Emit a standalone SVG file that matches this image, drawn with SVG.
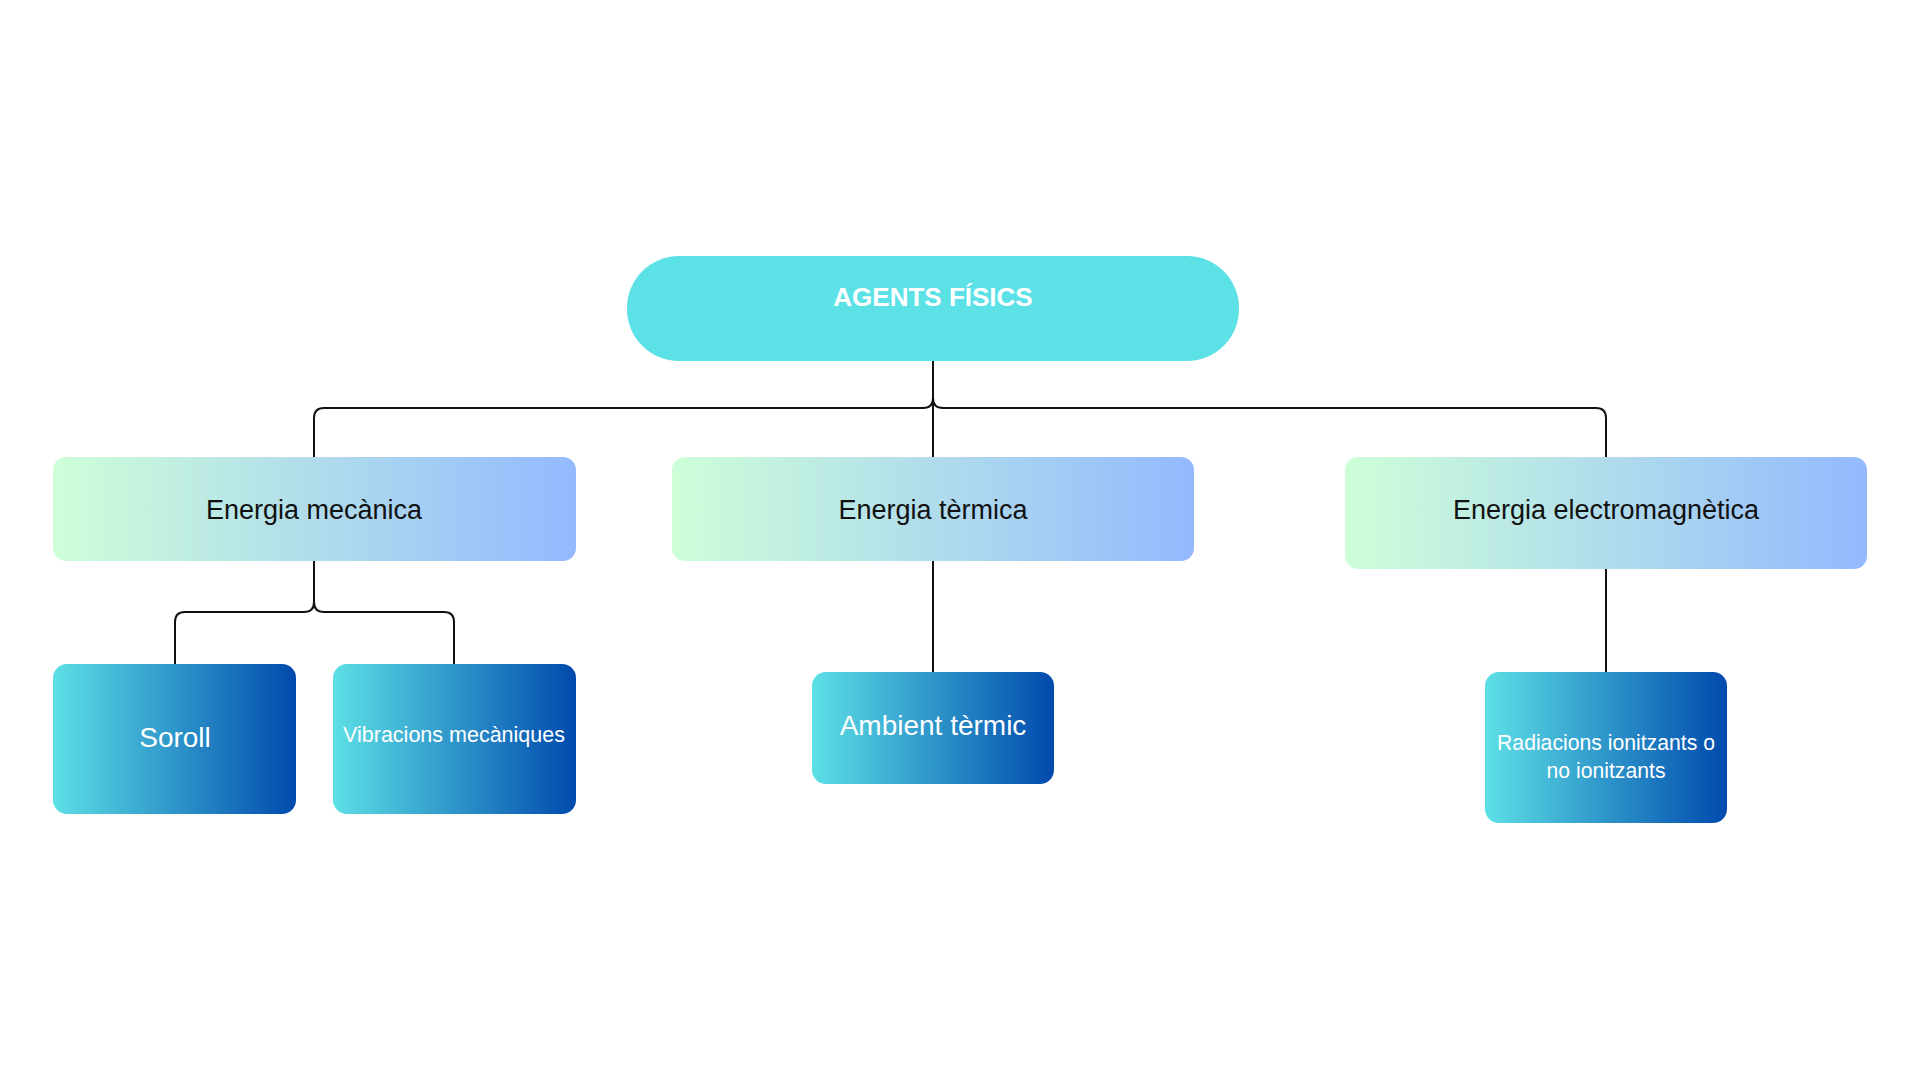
<svg xmlns="http://www.w3.org/2000/svg" width="1920" height="1080" viewBox="0 0 1920 1080">
  <defs>
    <linearGradient id="g2" x1="0" y1="0" x2="1" y2="0">
      <stop offset="0" stop-color="#cdffd8"/>
      <stop offset="1" stop-color="#94b9ff"/>
    </linearGradient>
    <linearGradient id="g3" x1="0" y1="0" x2="1" y2="0">
      <stop offset="0" stop-color="#5de0e6"/>
      <stop offset="1" stop-color="#004aad"/>
    </linearGradient>
    <style>
      .conn { fill: none; stroke: #111; stroke-width: 2; }
      .l2 { fill: url(#g2); }
      .l3 { fill: url(#g3); }
      .t { font-family: "Liberation Sans", Arial, sans-serif; text-anchor: middle; }
      .dark { fill: #111; font-size: 27px; }
      .light { fill: #ffffff; }
    </style>
  </defs>
  <rect width="1920" height="1080" fill="#ffffff"/>

  <g id="connectors">
    <path class="conn" d="M933,361 V398 Q933,408 923,408 H324 Q314,408 314,418 V457"/>
    <path class="conn" d="M933,398 Q933,408 943,408 H1596 Q1606,408 1606,418 V457"/>
    <path class="conn" d="M933,361 V457"/>
    <path class="conn" d="M314,561 V602 Q314,612 304,612 H185 Q175,612 175,622 V664"/>
    <path class="conn" d="M314,602 Q314,612 324,612 H444 Q454,612 454,622 V664"/>
    <path class="conn" d="M933,561 V672"/>
    <path class="conn" d="M1606,569 V672"/>
  </g>

  <g id="root">
    <rect x="627" y="256" width="612" height="105" rx="52" ry="52" fill="#5ce1e6"/>
    <text class="t" x="933" y="306" font-size="26" font-weight="bold" fill="#ffffff">AGENTS FÍSICS</text>
  </g>

  <g id="energia-mecanica">
    <rect class="l2" x="53" y="457" width="523" height="104" rx="13"/>
    <text class="t dark" x="314" y="519">Energia mecànica</text>
  </g>
  <g id="energia-termica">
    <rect class="l2" x="672" y="457" width="522" height="104" rx="13"/>
    <text class="t dark" x="933" y="519">Energia tèrmica</text>
  </g>
  <g id="energia-electromagnetica">
    <rect class="l2" x="1345" y="457" width="522" height="112" rx="13"/>
    <text class="t dark" x="1606" y="519">Energia electromagnètica</text>
  </g>

  <g id="soroll">
    <rect class="l3" x="53" y="664" width="243" height="150" rx="14"/>
    <text class="t light" x="175" y="747" font-size="28">Soroll</text>
  </g>
  <g id="vibracions">
    <rect class="l3" x="333" y="664" width="243" height="150" rx="14"/>
    <text class="t light" x="454" y="742" font-size="21.5">Vibracions mecàniques</text>
  </g>
  <g id="ambient-termic">
    <rect class="l3" x="812" y="672" width="242" height="112" rx="14"/>
    <text class="t light" x="933" y="735" font-size="28">Ambient tèrmic</text>
  </g>
  <g id="radiacions">
    <rect class="l3" x="1485" y="672" width="242" height="151" rx="14"/>
    <text class="t light" x="1606" y="750" font-size="21.2">Radiacions ionitzants o</text>
    <text class="t light" x="1606" y="778" font-size="21.2">no ionitzants</text>
  </g>
</svg>
